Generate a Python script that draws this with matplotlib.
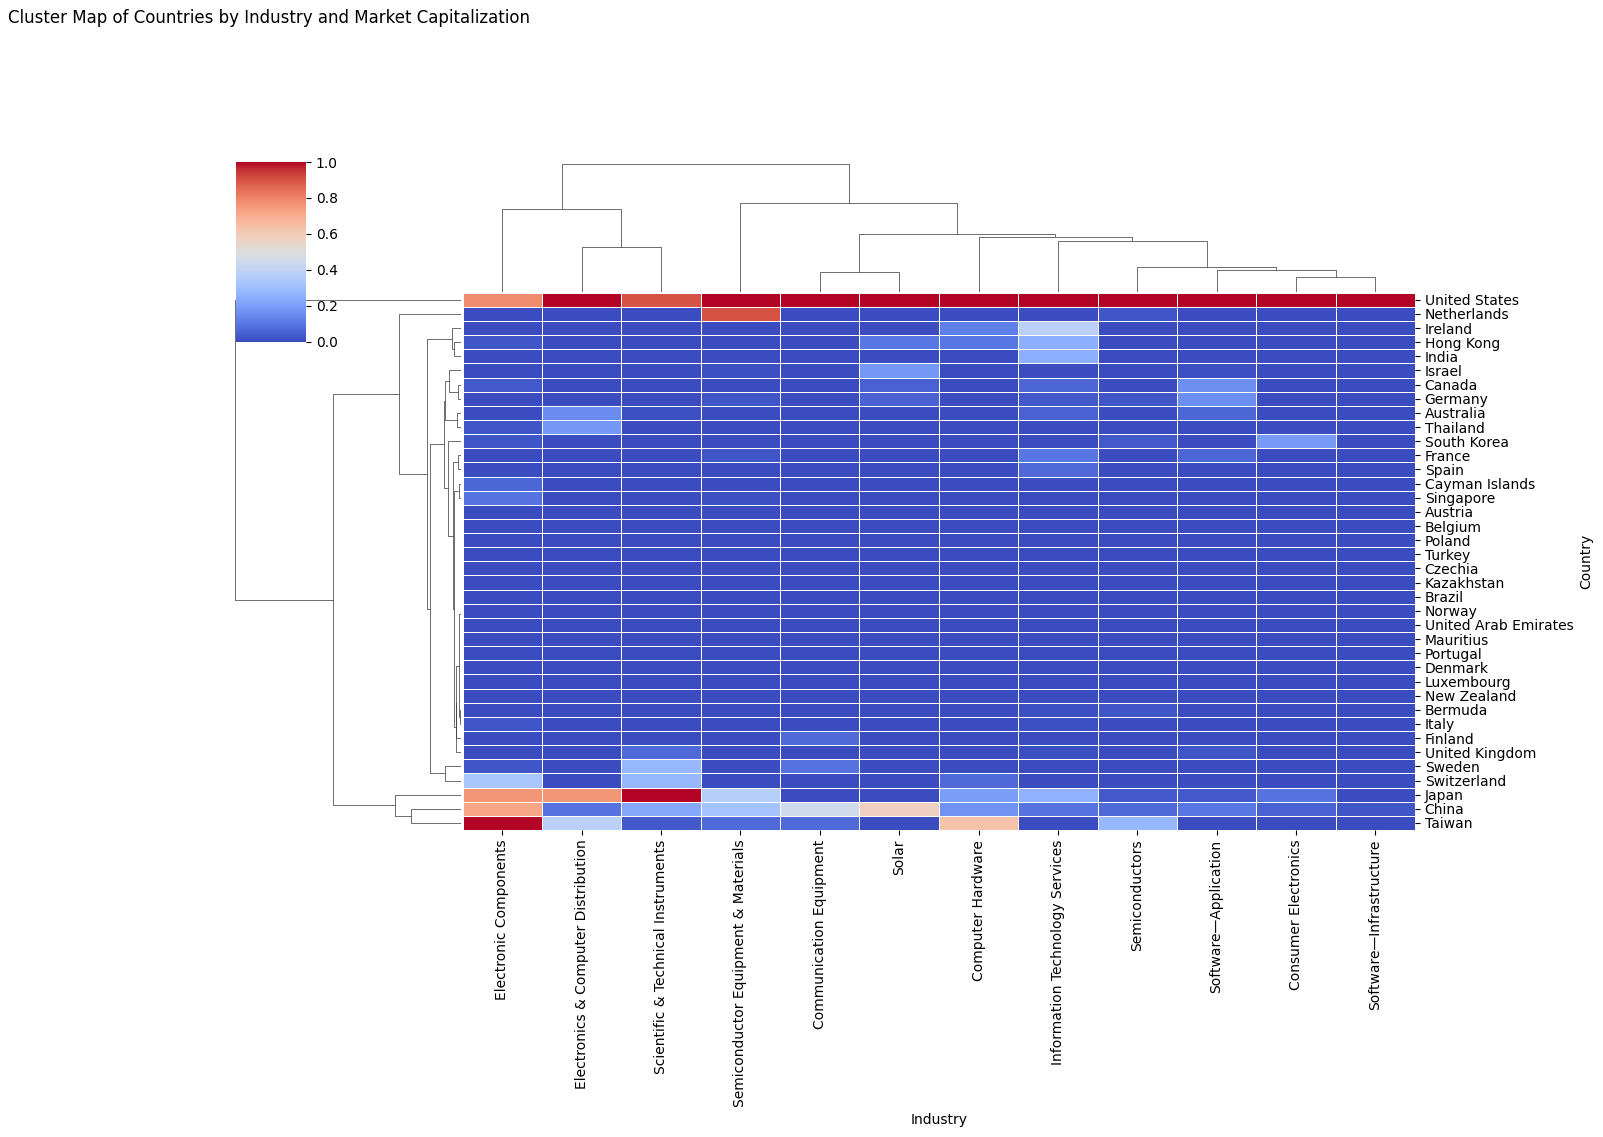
import numpy as np
import matplotlib
matplotlib.use("Agg")
import matplotlib.pyplot as plt
from matplotlib.collections import LineCollection

countries = ["United States", "Netherlands", "Ireland", "Hong Kong", "India", "Israel",
             "Canada", "Germany", "Australia", "Thailand", "South Korea", "France", "Spain",
             "Cayman Islands", "Singapore", "Austria", "Belgium", "Poland", "Turkey", "Czechia",
             "Kazakhstan", "Brazil", "Norway", "United Arab Emirates", "Mauritius", "Portugal",
             "Denmark", "Luxembourg", "New Zealand", "Bermuda", "Italy", "Finland",
             "United Kingdom", "Sweden", "Switzerland", "Japan", "China", "Taiwan"]

industries = ["Electronic Components", "Electronics & Computer Distribution",
              "Scientific & Technical Instruments", "Semiconductor Equipment & Materials",
              "Communication Equipment", "Solar", "Computer Hardware",
              "Information Technology Services", "Semiconductors", "Software\u2014Application",
              "Consumer Electronics", "Software\u2014Infrastructure"]

# market cap scaled 0-1 within each industry, one value per country (same order as countries)
electronic_components = [0.78, 0, 0, 0.02, 0, 0, 0.03, 0, 0, 0.02, 0.02, 0, 0, 0.06, 0.09,
                         0, 0, 0, 0, 0, 0, 0, 0, 0, 0, 0, 0, 0, 0,
                         0, 0.02, 0, 0, 0.02, 0.33, 0.76, 0.72, 1.0]
electronics_distribution = [1.0, 0, 0, 0, 0, 0, 0, 0, 0.15, 0.18, 0, 0, 0, 0, 0,
                            0, 0, 0, 0, 0, 0, 0, 0, 0, 0, 0, 0, 0, 0,
                            0, 0, 0, 0, 0, 0, 0.76, 0.09, 0.38]
scientific_instruments = [0.9, 0, 0, 0, 0, 0, 0, 0, 0.01, 0, 0, 0, 0, 0, 0,
                          0, 0, 0, 0, 0, 0, 0, 0, 0, 0, 0, 0, 0, 0,
                          0, 0, 0, 0.07, 0.28, 0.28, 1.0, 0.23, 0.03]
semi_equipment = [1.0, 0.9, 0, 0, 0, 0.01, 0, 0.02, 0, 0, 0, 0.02, 0, 0, 0.01,
                  0, 0, 0, 0, 0, 0, 0, 0, 0, 0, 0, 0, 0, 0,
                  0, 0, 0, 0, 0, 0, 0.37, 0.32, 0.07]
communication_equipment = [1.0, 0, 0, 0, 0, 0, 0, 0, 0, 0, 0, 0, 0, 0, 0,
                           0, 0, 0, 0, 0, 0, 0, 0, 0, 0, 0, 0, 0, 0,
                           0, 0, 0.07, 0, 0.09, 0, 0, 0.45, 0.07]
solar = [1.0, 0, 0, 0.10, 0, 0.18, 0.05, 0.05, 0, 0, 0, 0, 0, 0, 0,
         0, 0, 0, 0, 0, 0, 0, 0, 0, 0, 0, 0, 0, 0,
         0, 0, 0, 0, 0, 0, 0, 0.58, 0]
computer_hardware = [1.0, 0, 0.12, 0.10, 0, 0, 0, 0, 0, 0, 0, 0, 0, 0, 0,
                     0, 0, 0, 0, 0, 0, 0, 0, 0, 0, 0, 0, 0, 0,
                     0, 0, 0, 0, 0, 0.07, 0.2, 0.17, 0.63]
it_services = [1.0, 0, 0.38, 0.25, 0.25, 0, 0.06, 0.03, 0.05, 0, 0, 0.1, 0.07, 0, 0,
               0, 0, 0, 0, 0, 0, 0, 0, 0, 0, 0, 0, 0, 0,
               0.01, 0.01, 0, 0.01, 0, 0, 0.26, 0.09, 0]
semiconductors = [1.0, 0.02, 0, 0, 0, 0, 0, 0.02, 0, 0, 0.03, 0, 0, 0, 0,
                  0, 0, 0, 0, 0, 0, 0, 0, 0, 0, 0, 0, 0, 0,
                  0.02, 0, 0, 0, 0, 0, 0.03, 0.07, 0.28]
software_application = [1.0, 0, 0, 0, 0, 0.01, 0.16, 0.16, 0.06, 0, 0, 0.06, 0, 0, 0,
                        0, 0, 0, 0, 0, 0, 0, 0, 0, 0, 0, 0, 0, 0,
                        0, 0, 0, 0.02, 0, 0, 0.03, 0.1, 0]
consumer_electronics = [1.0, 0, 0, 0, 0, 0, 0, 0, 0, 0, 0.19, 0, 0, 0, 0,
                        0, 0, 0, 0, 0, 0, 0, 0, 0, 0, 0, 0, 0, 0,
                        0, 0, 0, 0, 0, 0, 0.09, 0.05, 0]
software_infrastructure = [1.0, 0, 0, 0, 0, 0, 0, 0, 0, 0, 0, 0, 0, 0, 0,
                           0, 0, 0, 0, 0, 0, 0, 0, 0, 0, 0, 0, 0, 0,
                           0, 0, 0, 0, 0, 0, 0, 0.02, 0]

data = np.column_stack([electronic_components, electronics_distribution, scientific_instruments,
                        semi_equipment, communication_equipment, solar, computer_hardware,
                        it_services, semiconductors, software_application,
                        consumer_electronics, software_infrastructure]).astype(float)


def ward_linkage(X):
    # plain ward / euclidean agglomeration (Lance-Williams update)
    n = len(X)
    D = np.sqrt(((X[:, None, :] - X[None, :, :]) ** 2).sum(axis=2))
    dist = {(i, j): D[i, j] for i in range(n) for j in range(i + 1, n)}
    size = {i: 1 for i in range(n)}
    leaves = {i: [i] for i in range(n)}
    active = list(range(n))
    merges = []
    nxt = n
    while len(active) > 1:
        best = None
        for ai, a in enumerate(active):
            for b in active[ai + 1:]:
                d = dist[(min(a, b), max(a, b))]
                # ties (identical rows) -> merge neighbours first
                gap = min(abs(min(leaves[a]) - max(leaves[b])), abs(min(leaves[b]) - max(leaves[a])))
                key = (round(d, 10), gap)
                if best is None or key < best[0]:
                    best = (key, d, a, b)
        _, d, a, b = best
        active.remove(a)
        active.remove(b)
        for k in active:
            dak = dist[(min(a, k), max(a, k))]
            dbk = dist[(min(b, k), max(b, k))]
            nk = size[k]
            val = ((size[a] + nk) * dak ** 2 + (size[b] + nk) * dbk ** 2 - nk * d ** 2) / (size[a] + size[b] + nk)
            dist[(k, nxt)] = np.sqrt(max(val, 0.0))
        size[nxt] = size[a] + size[b]
        leaves[nxt] = leaves[a] + leaves[b]
        merges.append((a, b, d))
        active.append(nxt)
        nxt += 1
    return merges, leaves


def dendrogram(X):
    n = len(X)
    merges, leaves = ward_linkage(X)
    children = {n + i: m for i, m in enumerate(merges)}
    order, segs = [], []

    def walk(node):
        if node < n:
            order.append(node)
            return 10 * (len(order) - 1) + 5, 0.0
        a, b, h = children[node]
        if min(leaves[a]) > min(leaves[b]):
            a, b = b, a
        pa, ha = walk(a)
        pb, hb = walk(b)
        segs.append([(pa, ha), (pa, h), (pb, h), (pb, hb)])
        return (pa + pb) / 2, h

    walk(n + len(merges) - 1)
    return order, segs, max(m[2] for m in merges)


row_order, row_segs, row_max = dendrogram(data)
col_order, col_segs, col_max = dendrogram(data.T)
mat = data[row_order][:, col_order]
nr, nc = mat.shape

W, H = 1603, 1137
fig = plt.figure(figsize=(W / 100, H / 100), dpi=100)


def box(x0, y0, x1, y1):
    return [x0 / W, 1 - y1 / H, (x1 - x0) / W, (y1 - y0) / H]


ax_heat = fig.add_axes(box(462.7, 292.7, 1415, 830))
ax_row = fig.add_axes(box(223.4, 292.7, 461, 830))
ax_col = fig.add_axes(box(462.7, 157.2, 1415, 291.7))
cax = fig.add_axes(box(236, 162, 306, 341.7))

mesh = ax_heat.pcolormesh(mat, cmap="coolwarm", vmin=0, vmax=1, edgecolors="white", linewidth=0.5)
ax_heat.set_xlim(0, nc)
ax_heat.set_ylim(nr, 0)
for s in ax_heat.spines.values():
    s.set_visible(False)
ax_heat.set_xticks(np.arange(nc) + 0.5)
ax_heat.set_xticklabels([industries[i] for i in col_order], rotation=90, fontsize=10)
ax_heat.yaxis.tick_right()
ax_heat.set_yticks(np.arange(nr) + 0.5)
ax_heat.set_yticklabels([countries[i] for i in row_order], rotation=0, fontsize=10)
ax_heat.set_xlabel("Industry", fontsize=10)
ax_heat.yaxis.set_label_position("right")
ax_heat.set_ylabel("Country", fontsize=10)

ax_row.add_collection(LineCollection([[(h, p) for p, h in s] for s in row_segs],
                                     colors=".2", linewidths=.5))
ax_row.set_xlim(row_max * 1.05, 0)
ax_row.set_ylim(nr * 10, 0)
ax_row.axis("off")

ax_col.add_collection(LineCollection(col_segs, colors=".2", linewidths=.5))
ax_col.set_xlim(0, nc * 10)
ax_col.set_ylim(0, col_max * 1.05)
ax_col.axis("off")

cb = fig.colorbar(mesh, cax=cax)
cb.outline.set_linewidth(0)
cb.set_ticks([0, 0.2, 0.4, 0.6, 0.8, 1.0])
cax.tick_params(labelsize=10)

fig.text(8 / W, 1 - 18 / H, "Cluster Map of Countries by Industry and Market Capitalization",
         fontsize=12, va="center", ha="left")

fig.savefig("out.png", dpi=100)
